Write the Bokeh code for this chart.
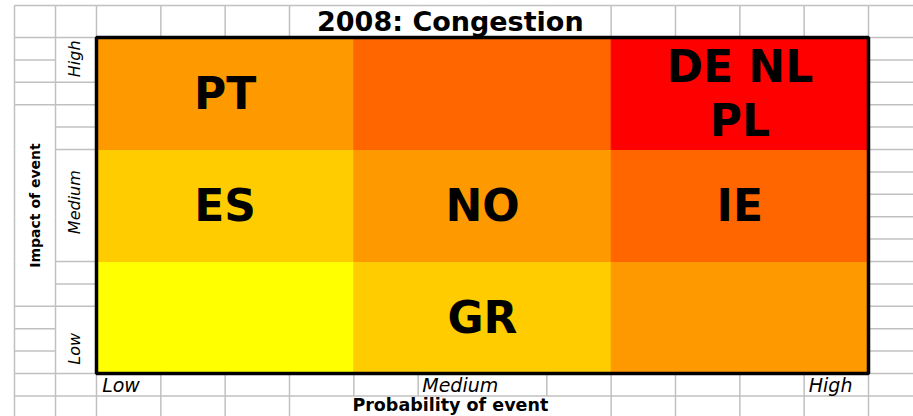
import numpy as np
from bokeh.plotting import figure
from bokeh.models import Range1d, ColumnDataSource
from bokeh.core.properties import value
from bokeh.embed import file_html
from bokeh.resources import INLINE

# ---------------- data ----------------
title_text = "2008: Congestion"
x_title = "Probability of event"
y_title = "Impact of event"
probability_levels = ["Low", "Medium", "High"]
impact_levels = ["Low", "Medium", "High"]

cell_probability = [0, 1, 2, 0, 1, 2, 0, 1, 2]
cell_impact = [0, 0, 0, 1, 1, 1, 2, 2, 2]
cell_countries = ["", "GR", "", "ES", "NO", "IE", "PT", "", "DE NL\nPL"]
risk_colors = ["#FFFF00", "#FFCC00", "#FF9900", "#FF6600", "#FF0000"]

# ---------------- spreadsheet layout (data units: one matrix cell = 1) ----------------
COL_A = (-0.3187, -0.1593)
COL_B = (-0.1593, 0.0)
col_bounds = [COL_A[0], COL_A[1], 0.0] + [0.25 * k for k in range(1, 14)]
row_bounds = [round(0.2 * k, 4) for k in range(-2, 16)] + [3.286]
merged = [
    (0.0, 3.0, 0.0, 3.0),            # the risk matrix
    (0.75, 2.0, 3.0, 3.286),         # title cell
    (0.75, 2.0, -0.4, -0.2),         # x title cell
    (1.25, 1.75, -0.2, 0.0),         # "Medium" label cell
    (COL_A[0], COL_A[1], 0.6, 2.4),  # y title cell
    (COL_B[0], COL_B[1], 2.6, 3.0),  # "High"
    (COL_B[0], COL_B[1], 1.0, 2.0),  # "Medium"
    (COL_B[0], COL_B[1], 0.0, 0.6),  # "Low"
]
eps = 1e-6

def v_hidden(x, ya, yb):
    return any(m[0] + eps < x < m[1] - eps and m[2] - eps <= ya and yb <= m[3] + eps for m in merged)

def h_hidden(y, xa, xb):
    return any(m[2] + eps < y < m[3] - eps and m[0] - eps <= xa and xb <= m[1] + eps for m in merged)

sx0, sy0, sx1, sy1 = [], [], [], []
for x in col_bounds:
    for ya, yb in zip(row_bounds[:-1], row_bounds[1:]):
        if not v_hidden(x, ya, yb):
            sx0.append(x); sx1.append(x); sy0.append(ya); sy1.append(yb)
for y in row_bounds:
    for xa, xb in zip(col_bounds[:-1], col_bounds[1:]):
        if not h_hidden(y, xa, xb):
            sx0.append(xa); sx1.append(xb); sy0.append(y); sy1.append(y)

# ---------------- figure ----------------
W, H = 913, 416
p = figure(width=W, height=H, output_backend="svg", toolbar_location=None,
           x_range=Range1d(-0.37306, 3.17487), y_range=Range1d(-0.38393, 3.33036),
           x_axis_location=None, y_axis_location=None, min_border=0)
p.grid.visible = False
p.outline_line_color = None
p.background_fill_color = "white"
p.border_fill_color = "white"

p.segment(x0=sx0, y0=sy0, x1=sx1, y1=sy1, line_color="#C0C0C0", line_width=1.5)

colors = [risk_colors[a + b] for a, b in zip(cell_probability, cell_impact)]
cells = ColumnDataSource(dict(
    left=cell_probability, right=[a + 1 for a in cell_probability],
    bottom=cell_impact, top=[b + 1 for b in cell_impact],
    xc=[a + 0.5 for a in cell_probability], yc=[b + 0.5 for b in cell_impact],
    color=colors, label=cell_countries))
p.quad(left="left", right="right", bottom="bottom", top="top", source=cells,
       fill_color="color", line_color="color", line_width=1)
p.quad(left=[0], right=[3], bottom=[0], top=[3], fill_color=None,
       line_color="black", line_width=3.5)
p.text(x="xc", y="yc", text="label", source=cells, text_align="center",
       text_baseline="middle", text_font=value("DejaVu Sans"), text_font_style="bold",
       text_font_size="44px", text_line_height=1.04, text_color="black")

# title and axis titles
p.text(x=[1.375], y=[3.143], text=[title_text], text_align="center", text_baseline="middle",
       text_font=value("DejaVu Sans"), text_font_style="bold", text_font_size="27px")
p.text(x=[1.375], y=[-0.283], text=[x_title], text_align="center", text_baseline="middle",
       text_font=value("DejaVu Sans"), text_font_style="bold", text_font_size="17.5px")
p.text(x=[sum(COL_A) / 2], y=[1.5], text=[y_title], angle=np.pi / 2, text_align="center",
       text_baseline="middle", text_font=value("DejaVu Sans"), text_font_style="bold",
       text_font_size="14px")

# level labels
prob_label_x = [0.0 + 0.022, 1.25 + 0.016, 2.75 + 0.018]
p.text(x=prob_label_x, y=[-0.1] * 3, text=probability_levels, text_align="left",
       text_baseline="middle", text_font=value("DejaVu Sans"), text_font_style="italic",
       text_font_size="19px")
impact_label_y = [0.22, 1.53, 2.81]
p.text(x=[sum(COL_B) / 2 - 0.004] * 3, y=impact_label_y, text=impact_levels, angle=np.pi / 2,
       text_align="center", text_baseline="middle", text_font=value("DejaVu Sans"),
       text_font_style="italic", text_font_size="16px")

open("out.html", "w").write(file_html(p, INLINE))
